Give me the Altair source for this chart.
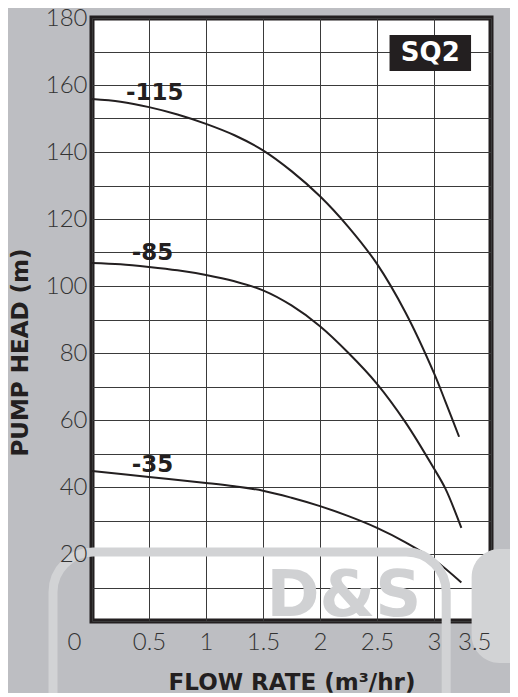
import altair as alt
import pandas as pd

# ---- data ----
flow_115 = [0, 0.25, 0.5, 0.75, 1.0, 1.25, 1.5, 1.75, 2.0, 2.25, 2.5, 2.75, 3.0, 3.1, 3.22]
head_115 = [155.8, 155.0, 153.4, 151.2, 148.4, 145.0, 140.5, 134.3, 126.8, 117.6, 106.6, 92.1, 74.0, 65.5, 55.0]

flow_85 = [0, 0.25, 0.5, 0.75, 1.0, 1.25, 1.5, 1.75, 2.0, 2.25, 2.5, 2.75, 3.0, 3.1, 3.24]
head_85 = [106.9, 106.5, 105.7, 104.7, 103.3, 101.4, 98.7, 94.2, 88.0, 80.0, 70.8, 59.3, 45.5, 39.5, 27.8]

flow_35 = [0, 0.5, 1.0, 1.25, 1.5, 1.75, 2.0, 2.25, 2.5, 2.75, 3.0, 3.24]
head_35 = [44.8, 43.0, 41.2, 40.2, 38.9, 36.8, 34.3, 31.3, 27.8, 23.5, 18.3, 11.5]

curve_names = ["-115", "-85", "-35"]
label_flow = [0.55, 0.53, 0.53]
label_head = [157.6, 110.0, 46.6]

x_ticks = [0, 0.5, 1, 1.5, 2, 2.5, 3, 3.5]
y_ticks = list(range(0, 181, 10))

model_name = ["SQ2"]
badge_x = [2.61, 3.325]
badge_y = [164.2, 174.9]

watermark_text = ["D&S"]

# ---- tables ----
rows = []
for name, xs, ys in [("-115", flow_115, head_115), ("-85", flow_85, head_85), ("-35", flow_35, head_35)]:
    for i, (x, y) in enumerate(zip(xs, ys)):
        rows.append({"series": name, "flow": x, "head": y, "order": i})
curves = pd.DataFrame(rows)
labels = pd.DataFrame({"name": curve_names, "flow": label_flow, "head": label_head})
badge = pd.DataFrame({"x": [badge_x[0]], "x2": [badge_x[1]], "y": [badge_y[0]], "y2": [badge_y[1]],
                      "cx": [(badge_x[0] + badge_x[1]) / 2], "cy": [(badge_y[0] + badge_y[1]) / 2],
                      "name": model_name})
wm_band = pd.DataFrame({"x": [-0.342], "x2": [3.107], "y": [20.6], "y2": [-40]})
wm_block = pd.DataFrame({"x": [3.33], "x2": [4.2], "y": [21.5], "y2": [-12.5]})
wm_text = pd.DataFrame({"x": [2.21], "y": [7.2], "t": watermark_text})

x_scale = alt.Scale(domain=[0, 3.5], nice=False, zero=False)
y_scale = alt.Scale(domain=[0, 180], nice=False)

# grid-only axes (behind marks)
x_grid_axis = alt.Axis(values=x_ticks, grid=True, labels=False, title=None, orient="bottom", zindex=0)
y_grid_axis = alt.Axis(values=y_ticks, grid=True, labels=False, title=None, orient="left", zindex=0)
# label axes (in front of the watermark)
x_label_axis = alt.Axis(
    values=x_ticks, grid=False, title="FLOW RATE (m³/hr)", format="~g", orient="bottom",
    labelOffset={"condition": {"test": "datum.value === 0", "value": -25}, "value": 0},
    labelPadding=9, labelBaseline="top", labelOverlap=False, labelBound=False,
    titleY=61, titleBaseline="middle", zindex=1,
)
y_label_axis = alt.Axis(
    values=y_ticks, grid=False, title="PUMP HEAD (m)", orient="left",
    labelExpr="datum.value % 20 === 0 && datum.value > 0 ? datum.label : ''",
    labelPadding=5, labelBaseline="middle", labelOverlap=False,
    titleX=-72, titleY=334, titleAngle=270, titleBaseline="middle", titleAlign="center",
    zindex=1,
)

lines = alt.Chart(curves).mark_line(color="#231f20", strokeWidth=2, interpolate="catmull-rom").encode(
    x=alt.X("flow:Q", scale=x_scale, axis=x_grid_axis),
    y=alt.Y("head:Q", scale=y_scale, axis=y_grid_axis),
    detail="series:N",
    order="order:Q",
)

text_labels = alt.Chart(labels).mark_text(
    font="DejaVu Sans", fontWeight="bold", fontSize=23, color="#231f20"
).encode(x=alt.X("flow:Q", scale=x_scale, axis=x_label_axis),
         y=alt.Y("head:Q", scale=y_scale, axis=y_label_axis), text="name:N")

badge_rect = alt.Chart(badge).mark_rect(color="#231f20").encode(
    x=alt.X("x:Q", scale=x_scale, axis=None), x2="x2:Q",
    y=alt.Y("y:Q", scale=y_scale, axis=None), y2="y2:Q")
badge_text = alt.Chart(badge).mark_text(
    font="DejaVu Sans", fontWeight="bold", fontSize=26, color="white", baseline="middle"
).encode(x=alt.X("cx:Q", scale=x_scale, axis=None),
         y=alt.Y("cy:Q", scale=y_scale, axis=None), text="name:N")

wm1 = alt.Chart(wm_band).mark_rect(filled=False, stroke="#d2d3d5", strokeWidth=9, cornerRadius=40).encode(
    x=alt.X("x:Q", scale=x_scale, axis=None), x2="x2:Q",
    y=alt.Y("y:Q", scale=y_scale, axis=None), y2="y2:Q")
wm2 = alt.Chart(wm_block).mark_rect(color="#d2d3d5", cornerRadius=28).encode(
    x=alt.X("x:Q", scale=x_scale, axis=None), x2="x2:Q",
    y=alt.Y("y:Q", scale=y_scale, axis=None), y2="y2:Q")
wm3 = alt.Chart(wm_text).mark_text(
    font="DejaVu Sans", fontWeight="bold", fontSize=64, color="#d0d1d3", baseline="middle"
).encode(x=alt.X("x:Q", scale=x_scale, axis=None),
         y=alt.Y("y:Q", scale=y_scale, axis=None), text="t:N")

chart = alt.layer(lines, text_labels, badge_rect, badge_text, wm1, wm2, wm3).resolve_axis(
    x="independent", y="independent"
).properties(
    width=399, height=603,
    autosize="none",
    padding={"left": 84, "top": 10, "right": 19, "bottom": 72},
    background="#bdbec2",
).configure_view(
    fill="white", stroke="#231f20", strokeWidth=5,
).configure_axis(
    domain=False, ticks=False,
    gridColor="#3a3a3a", gridWidth=1, gridOpacity=1,
    labelFont="Lato", labelFontWeight=300, labelFontSize=24, labelColor="#333333",
    titleFont="DejaVu Sans", titleFontWeight="bold", titleFontSize=23, titleColor="#231f20",
)

chart.save("out.html", embed_options={"renderer": "svg", "actions": False})
